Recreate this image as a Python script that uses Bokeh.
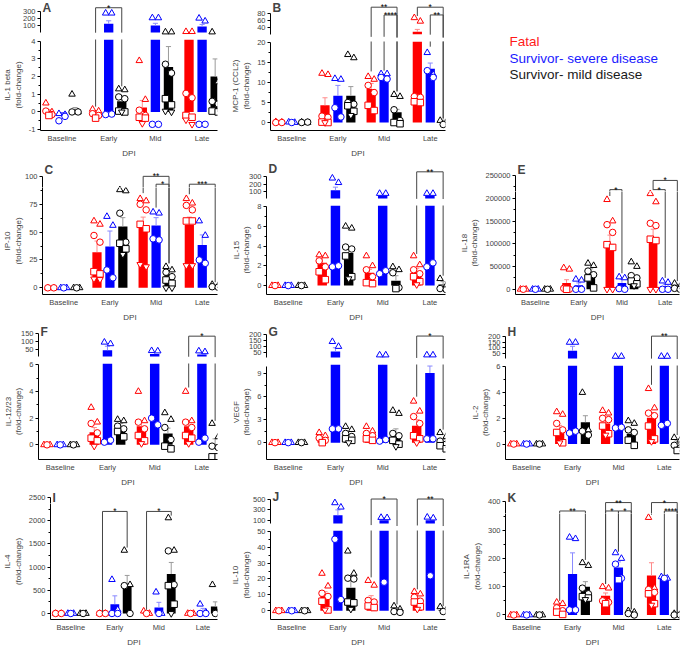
from bokeh.plotting import figure
from bokeh.models import Range1d, FixedTicker, Label, ColumnDataSource, NumeralTickFormatter
from bokeh.layouts import column, row
from bokeh.embed import file_html
from bokeh.resources import INLINE
from bokeh.core.properties import value

GROUPS = ["Baseline", "Early", "Mid", "Late"]
SERIES = ["Fatal", "Survivor- severe disease", "Survivor- mild disease"]
X_LABEL = "DPI"

# ---------------- data (series order: Fatal, severe, mild; groups: Baseline, Early, Mid, Late)
A_NAME = "IL-1 beta"
A_MEAN = [[0.05, 0.0, 0.25, 4.5], [-0.15, 125, 100, 85], [0.05, 0.6, 2.55, 2.0]]
A_ERR = [[0.08, 0.08, 0.4, 3], [0.1, 40, 30, 30], [0.2, 0.3, 1.15, 1.0]]
A_PTS = [
    [[0.5, 0.0, 0.05, -0.15, -0.2], [0.15, 0.05, -0.1, -0.2, -0.35], [2.9, 0.7, 0.1, -0.2, -0.3, -0.35, -0.65], [15, 15, 1.05, 0.8, -0.2, -0.3, -0.45, -0.7]],
    [[-0.1, -0.15, -0.5, -0.25], [270, 270, -0.15, -0.12], [205, 205, -0.7, -0.7], [200, 160, -0.7, -0.7]],
    [[1.0, 0.0, 0.0, 0.0], [1.3, 1.25, 0.85, 0.75, 0.05, 0.0, 0.0], [10, 10, 2.7, 2.2, 0.75, 0.4, 0.05, 0.0], [10, 1.7, 0.6, 0.45, 0.05, 0.0]],
]
A_SIG = [(1, 0, 2, 345, 0.3, 1.45, "*")]
A_TICKS_TOP = [100, 200, 300]
A_TICKS = [-1, 0, 1, 2, 3, 4]

B_NAME = "MCP-1 (CCL2)"
B_MEAN = [[0.1, 4.3, 8.4, 27], [0.05, 6.7, 11.4, 13.5], [0.1, 6.7, 2.6, 0.3]]
B_ERR = [[0.1, 1.9, 1.4, 7], [0.05, 2.6, 0.5, 1.4], [0.05, 2.3, 0.7, 0.3]]
B_PTS = [
    [[0.2, 0.1, 0.0, 0.0], [12.3, 12.0, 1.6, 1.3, 0.1, 0.0, 0.0], [11.5, 10.8, 9.3, 7.5, 4.3, 3.0], [67, 57, 6.5, 6.3, 5.2, 5.0]],
    [[0.1, 0.0, 0.0], [11.0, 10.8, 3.7, 1.4], [12.2, 12.2, 11.3, 10.9], [17.5, 12.0, 13.0, 11.3]],
    [[0.1, 0.0, 0.0, 0.1], [17.0, 16.2, 5.0, 4.6, 4.2, 2.8, 1.8], [7.0, 6.5, 3.2, 0.5, 0.0, -0.3], [0.5, 0.0, -0.5]],
]
B_SIG = [(2, 0, 2, 97, 12.8, 7.8, "**"), (2, 1, 2, 75, 13.0, 7.8, "****"),
         (3, 0, 2, 97, 72, 1.0, "*"), (3, 1, 2, 75, 19, 1.0, "**")]
B_TICKS_TOP = [40, 60, 80]
B_TICKS = [0, 5, 10, 15, 20]

C_NAME = "IP-10"
C_MEAN = [[0.5, 32, 54.5, 56.5], [0.5, 37, 56, 38.5], [0.5, 55, 12, 2]]
C_ERR = [[0.3, 10, 9, 7], [0.3, 14, 7, 9], [0.3, 8, 3, 0.6]]
C_PTS = [
    [[0, 0, 0, 0], [60, 57, 47, 41, 14.5, 12.5, 8, 7.5], [80, 78, 75, 70, 57, 53, 21, 19], [80, 76, 74, 70, 60, 60, 20, 20]],
    [[0, 0, 0], [64, 56, 16, 9], [68, 67, 44, 43], [60, 47, 25, 22]],
    [[0, 0, 0], [88, 87, 67, 41, 40, 35, 30], [19, 16, 14, 10, 7, 4, 0, 0], [3, 2, 1, 0.5]],
]
C_SIG = [(2, 0, 2, 100, 85, 22, "**"), (2, 1, 2, 93, 72, 22, "*"), (3, 0, 2, 93, 84, 5, "***")]
C_TICKS = [0, 25, 50, 75, 100]

D_NAME = "IL-15"
D_MEAN = [[0.05, 2.3, 1.3, 1.4], [0.05, 120, 45, 45], [0.05, 3.3, 0.5, 0.1]]
D_ERR = [[0.05, 0.7, 0.35, 0.35], [0.05, 40, 15, 15], [0.05, 0.6, 0.5, 0.3]]
D_PTS = [
    [[0, 0, 0], [3.1, 3.0, 2.5, 1.9, 1.4, 0.6], [3.0, 2.0, 1.6, 0.9, 0.3, 0.2], [3.0, 2.1, 1.6, 1.2, 0.9, 0.4, 0.1]],
    [[0, 0, 0], [280, 220, 1.9, 2.0], [75, 75, 1.2, 1.5], [75, 75, 1.9, 2.3]],
    [[0, 0, 0], [6.0, 5.8, 3.9, 3.7, 3.0, 0.9, 0.7], [1.9, 1.6, 1.3, -0.2, -0.3], [0.7, 0.0, -0.3, -0.4]],
]
D_SIG = [(3, 0, 2, 365, 3.2, 1.0, "**")]
D_TICKS_TOP = [100, 200, 300]
D_TICKS = [0, 2, 4, 6, 8]

E_NAME = "IL-18"
E_MEAN = [[500, 14000, 99000, 112000], [300, 9000, 14000, 7000], [400, 36000, 26000, 8000]]
E_ERR = [[300, 7000, 20000, 20000], [200, 5000, 8000, 4000], [300, 9000, 5000, 3000]]
E_PTS = [
    [[0, 0, 0], [47000, 44000, 2000, 0, 0], [197000, 150000, 142000, 125000, 98000, 92000, 0, 0], [210000, 192000, 145000, 140000, 110000, 107000, 0, 0]],
    [[0, 0, 0], [22000, 20000, 0, 0], [27000, 25000, 1500, 0], [18000, 15000, 0, 0]],
    [[0, 0, 0], [57000, 52000, 40000, 32000, 25000, 3000], [60000, 50000, 30000, 25000, 18000, 12000, 8000], [13000, 6000, 2000, 0]],
]
E_SIG = [(2, 0, 1, 219000, 205000, 35000, "*"), (3, 0, 1, 219000, 218000, 25000, "*"),
         (3, 0, 2, 239000, 219000, 18000, "*")]
E_TICKS = [0, 50000, 100000, 150000, 200000, 250000]

F_NAME = "IL-12/23"
F_MEAN = [[0.02, 0.95, 1.4, 1.4], [0.02, 45, 21, 19], [0.02, 1.35, 0.85, 0.05]]
F_ERR = [[0.02, 0.35, 0.4, 0.4], [0.02, 25, 10, 10], [0.02, 0.25, 0.4, 0.4]]
F_PTS = [
    [[0, 0, 0], [2.8, 1.7, 1.6, 0.9, 0.5, 0.3, -0.1], [4.0, 1.8, 1.7, 1.2, 0.7, 0.3, 0.1], [4.0, 1.8, 1.7, 1.3, 0.7, 0.5, 0.1]],
    [[0, 0, 0], [95, 85, 0.2, 0.35], [42, 40, 2.0, 1.5], [40, 35, 0.2, 0.5]],
    [[0, 0, 0], [1.9, 1.8, 1.4, 1.2, 1.0, 0.6], [2.4, 1.9, 1.3, 0.4, -0.1, -0.3], [1.6, 0.6, -0.1, -0.2, -0.9, -0.9]],
]
F_SIG = [(3, 0, 2, 133, 4.3, 1.8, "*")]
F_TICKS_TOP = [50, 100, 150]
F_TICKS = [0, 2, 4, 6]

G_NAME = "VEGF"
G_MEAN = [[0.02, 0.5, 1.0, 2.2], [0.02, 60, 10.2, 9.1], [0.02, 0.6, 1.0, 0.1]]
G_ERR = [[0.02, 0.3, 0.3, 0.8], [0.02, 30, 5, 0.9], [0.02, 0.3, 0.8, 0.3]]
G_PTS = [
    [[0, 0, 0], [1.3, 0.9, 0.6, 0.3, 0.0], [2.1, 1.5, 1.2, 0.9, 0.5, 0.3], [5.4, 4.1, 3.4, 2.5, 0.9, 0.5, 0.0]],
    [[0, 0, 0], [140, 100, 1.8, 1.8], [30, 30, 0.2, 0.4], [30, 30, 0.5, 0.5]],
    [[0, 0, 0], [2.1, 1.7, 1.2, 0.8, 0.5, 0.3, 0.0], [4.2, 3.8, 1.2, 0.9, 0.3, -0.2, -0.5], [1.3, 0.8, 0.2, -0.2, -0.4, -0.8]],
]
G_SIG = [(3, 0, 2, 186, 6.0, 1.7, "*")]
G_TICKS_TOP = [50, 100, 150, 200]
G_TICKS = [0, 3, 6, 9]

H_NAME = "IL-2"
H_MEAN = [[0.02, 1.15, 1.6, 2.05], [0.02, 75, 13, 13], [0.02, 1.7, 0.8, 0.05]]
H_ERR = [[0.02, 0.3, 0.25, 0.4], [0.02, 40, 6, 6], [0.02, 0.5, 0.3, 0.2]]
H_PTS = [
    [[0, 0, 0], [2.5, 2.3, 1.6, 1.1, 0.9, 0.1, 0.1], [2.6, 2.4, 2.0, 1.9, 1.4, 0.8, 0.7], [4.3, 2.8, 2.4, 2.2, 1.4, 0.4, 0.2]],
    [[0, 0, 0], [150, 150, 0.85, 1.0], [25, 25, 1.25, 1.3], [25, 25, 1.45, 1.6]],
    [[0, 0, 0], [4.0, 1.1, 1.0, 0.7], [1.8, 1.6, 1.1, 0.9, 0.3, -0.1], [0.5, 0.3, -0.1, -0.3, -0.5]],
]
H_SIG = [(3, 0, 2, 206, 4.6, 0.7, "**")]
H_TICKS_TOP = [50, 100, 150, 200]
H_TICKS = [0, 2, 4, 6]

I_NAME = "IL-4"
I_MEAN = [[5, 5, 15, 5], [5, 200, 130, 40], [5, 640, 850, 150]]
I_ERR = [[5, 5, 15, 5], [5, 180, 110, 70], [5, 180, 250, 100]]
I_PTS = [
    [[0, 0, 0, 0], [0, 0, 0, 0], [50, 0, 0], [0, 0, 0]],
    [[0, 0, 0], [730, 80, 0, 0], [460, 0, 0], [200, 30, 0, 0]],
    [[0, 0, 0], [1360, 620, 600, 0], [2060, 1360, 1350, 620, 600, 200, 0], [620, 20, 0]],
]
I_SIG = [(1, 0, 2, 2200, 30, 1420, "*"), (2, 0, 2, 2200, 80, 2110, "*")]
I_TICKS = [0, 500, 1000, 1500, 2000, 2500]

J_NAME = "IL-10"
J_MEAN = [[0.3, 9.5, 7, 6.5], [0.3, 200, 110, 112], [0.3, 14.5, 0.5, 0.5]]
J_ERR = [[0.2, 2.5, 2.5, 1.5], [0.2, 100, 45, 45], [0.2, 4.5, 0.8, 0.6]]
J_PTS = [
    [[0, 0, 0], [23.5, 15.5, 11, 9, 6, 0.5, 0.5], [19, 16, 6.5, 5.5, 3, 2], [12, 10.5, 8.5, 6, 5.5, 2.5, 1]],
    [[0, 0, 0], [430, 350, 45, 7], [160, 155, 18], [165, 150, 22]],
    [[0, 0, 0], [37.5, 23.5, 20.5, 20, 5.5, 5, 1], [3, 1, -0.5, -1], [2.5, 0.5, -0.5]],
]
J_SIG = [(2, 0, 2, 500, 21, 4, "*"), (3, 0, 2, 500, 13.5, 3, "**")]
J_TICKS_TOP = [100, 300, 500]
J_TICKS = [0, 10, 20, 30, 40, 50]

K_NAME = "IL-1RA"
K_MEAN = [[2, 25, 68, 140], [2, 145, 168, 128], [2, 100, 8, 2]]
K_ERR = [[2, 10, 10, 45], [2, 75, 20, 4], [2, 18, 3, 1]]
K_PTS = [
    [[0, 0, 0], [45, 40, 25, 15, 10, 2], [100, 95, 50, 45, 40], [345, 95, 90, 80, 75, 40, 35]],
    [[0, 0, 0], [275, 270, 18, 18], [220, 200, 180, 130, 125], [135, 130, 130]],
    [[0, 0, 0], [185, 175, 95, 75, 65, 60, 55], [15, 10, 5, 0], [5, 2, 0, 0]],
]
K_SIG = [(1, 0, 2, 368, 50, 195, "**"), (2, 0, 2, 397, 110, 20, "**"), (2, 0, 1, 368, 110, 225, "*"),
         (2, 1, 2, 368, 225, 20, "*"), (3, 0, 2, 397, 355, 5, "*"), (3, 1, 2, 368, 140, 5, "****")]
K_TICKS = [0, 100, 200, 300, 400]

# ---------------- style / layout
FONT = "Liberation Sans"
COLORS = ["#ff0000", "#0000ff", "#000000"]
ERR_COLORS = ["#ff8a8a", "#8a8aff", "#9a9a9a"]
LEGEND_COLORS = ["#ff1a1a", "#1a1aff", "#1a1a1a"]
OFFS = [-0.28, 0.0, 0.28]
BAR_W = 0.2
JIT = 0.065
SHAPES = ["triangle", "circle", "square", "inverted_triangle"]
XR = (-0.46, 3.33)
ROW_H = [161, 163, 165, 160]
ROW_BB = [31, 29, 29, 27]
COL_W = [228, 228, 225]
COL_BL = [37, 37, 49]
COL_BR = [11, 11, 2]


def mids(ticks):
    return [(a + b) / 2 for a, b in zip(ticks[:-1], ticks[1:])]


def base_fig(col, h, yr, tb, bb, with_x):
    p = figure(width=COL_W[col], height=h, x_range=Range1d(*XR), y_range=Range1d(*yr),
               output_backend="svg", toolbar_location=None,
               x_axis_location="below" if with_x else None,
               min_border_left=COL_BL[col], min_border_right=COL_BR[col],
               min_border_top=tb, min_border_bottom=bb)
    p.outline_line_color = None
    p.grid.visible = False
    if with_x:
        ax = p.xaxis[0]
        ax.ticker = FixedTicker(ticks=[0, 1, 2, 3])
        ax.major_label_overrides = {i: g for i, g in enumerate(GROUPS)}
        ax.major_tick_out = 0
        ax.major_tick_in = 0
        ax.minor_tick_out = 0
        ax.major_label_standoff = 3
        ax.major_label_text_font = FONT
        ax.major_label_text_font_size = "7.5px"
        ax.axis_label = X_LABEL
        ax.axis_label_text_font = FONT
        ax.axis_label_text_font_size = "8px"
        ax.axis_label_text_font_style = "normal"
        ax.axis_label_standoff = 3
        ax.axis_line_color = "black"
    return p


def style_y(p, ticks, minors, bounds, label):
    ax = p.yaxis[0]
    ax.ticker = FixedTicker(ticks=ticks, minor_ticks=minors)
    ax.formatter = NumeralTickFormatter(format="0")
    ax.bounds = bounds
    ax.axis_line_color = "black"
    ax.major_tick_out = 3
    ax.major_tick_in = 0
    ax.minor_tick_out = 2
    ax.minor_tick_in = 0
    ax.major_label_standoff = 2
    ax.major_label_text_font = FONT
    ax.major_label_text_font_size = "7.5px"
    ax.axis_label = label
    ax.axis_label_text_font = FONT
    ax.axis_label_text_font_size = "8px"
    ax.axis_label_text_font_style = "normal"
    ax.axis_label_standoff = 3


def draw(p, mean, err, pts, sig, lo=None, hi=None):
    y0r, y1r = p.y_range.start, p.y_range.end
    for s in range(3):
        xs, tops, bots = [], [], []
        for g in range(4):
            m = mean[s][g]
            if lo is not None and m <= lo:
                continue
            xs.append(g + OFFS[s])
            tops.append(m)
            bots.append(lo if lo is not None else 0)
        if xs:
            p.vbar(x=xs, top=tops, bottom=bots, width=BAR_W, fill_color=COLORS[s], line_color=None)
    for s in range(3):
        x0, y0, y1, cx0, cx1, cy = [], [], [], [], [], []
        for g in range(4):
            m, e = mean[s][g], err[s][g]
            t = m + e
            if lo is not None and t <= lo:
                continue
            x = g + OFFS[s]
            x0.append(x)
            y0.append(max(m, lo) if lo is not None else m)
            y1.append(t)
            if hi is None or t <= hi:
                cx0.append(x - 0.055)
                cx1.append(x + 0.055)
                cy.append(t)
        if x0:
            p.segment(x0=x0, y0=y0, x1=x0, y1=y1, line_color=ERR_COLORS[s], line_width=1)
        if cy:
            p.segment(x0=cx0, y0=cy, x1=cx1, y1=cy, line_color=ERR_COLORS[s], line_width=1)
    d = dict(x=[], y=[], m=[], c=[])
    for s in range(3):
        for g in range(4):
            vals = pts[s][g]
            n = len(vals)
            for i, v in enumerate(vals):
                if lo is not None and v <= lo:
                    continue
                if hi is not None and v > hi:
                    continue
                if n % 2 == 1 and i == n - 1:
                    dx = 0.0
                else:
                    dx = -JIT if i % 2 == 0 else JIT
                d["x"].append(g + OFFS[s] + dx)
                d["y"].append(v)
                d["m"].append(SHAPES[(i // 2) % len(SHAPES)])
                d["c"].append(COLORS[s])
    if d["x"]:
        p.scatter(x="x", y="y", marker="m", line_color="c", fill_color="white", size=6.5,
                  line_width=1, source=ColumnDataSource(d))
    for (g, s1, s2, yb, e1, e2, lab) in sig:
        xa, xb = g + OFFS[s1], g + OFFS[s2]
        p.segment(x0=[xa, xa, xb], y0=[yb, yb, yb], x1=[xb, xa, xb], y1=[yb, e1, e2],
                  line_color="#444444", line_width=1)
        if y0r < yb < y1r:
            p.text(x=[(xa + xb) / 2], y=[yb], text=[lab], text_align="center",
                   text_baseline="alphabetic", text_font=value(FONT), text_font_size="8.5px",
                   text_color="black")


def letter_top(p, txt, h):
    # figures without an x axis: measured from the canvas' bottom-left corner
    p.add_layout(Label(x=2, y=h - 8, x_units="screen", y_units="screen",
                       text=txt, text_font=FONT, text_font_size="12px", text_font_style="bold",
                       text_baseline="middle", text_align="left"))


def split_panel(key, name, mean, err, pts, sig, ticks, col, rw, yr, strip_h):
    # one continuous axis drawn as a top strip plus the main plot, seamlessly
    h = ROW_H[rw]
    bb = ROW_BB[rw]
    upx = (yr[1] - yr[0]) / (h - bb)
    v = yr[1] - strip_h * upx
    mn = mids(ticks)
    ps = base_fig(col, strip_h, (v, yr[1]), 0, 0, False)
    style_y(ps, [t for t in ticks if t > v], [m for m in mn if m > v], (v, ticks[-1]), "")
    draw(ps, mean, err, pts, sig)
    letter_top(ps, key, strip_h)
    pm = base_fig(col, h - strip_h, (yr[0], v), 0, bb, True)
    style_y(pm, [t for t in ticks if t <= v], [m for m in mn if m <= v], (yr[0], v), name + "\n(fold-change)")
    draw(pm, mean, err, pts, sig)
    return column(ps, pm, spacing=0)


def broken_panel(key, name, mean, err, pts, sig, ticks_top, ticks, col, rw, brk, top_r, low_r, th):
    h = ROW_H[rw]
    bb = ROW_BB[rw]
    ht = th + 1
    pt = base_fig(col, ht, top_r, 0, 1, False)
    style_y(pt, ticks_top, [], (brk, ticks_top[-1]), "")
    draw(pt, mean, err, pts, sig, lo=brk)
    letter_top(pt, key, ht)
    pb = base_fig(col, h - ht, low_r, 3, bb, True)
    style_y(pb, ticks, mids(ticks), (low_r[0], brk), name + "\n(fold-change)")
    draw(pb, mean, err, pts, sig, hi=brk)
    return column(pt, pb, spacing=0)


pA = broken_panel("A", A_NAME, A_MEAN, A_ERR, A_PTS, A_SIG, A_TICKS_TOP, A_TICKS, 0, 0, 4, (-38, 445), (-1.05, 4.1), 35)
pB = broken_panel("B", B_NAME, B_MEAN, B_ERR, B_PTS, B_SIG, B_TICKS_TOP, B_TICKS, 1, 0, 20, (11, 116), (-2, 20.3), 37)

leg = figure(width=COL_W[2], height=ROW_H[0], x_range=Range1d(0, 1), y_range=Range1d(0, 1),
             output_backend="svg", toolbar_location=None, x_axis_location=None,
             y_axis_location=None, min_border=0)
leg.outline_line_color = None
leg.grid.visible = False
for i, (nm, c) in enumerate(zip(SERIES, LEGEND_COLORS)):
    leg.add_layout(Label(x=53, y=ROW_H[0] - 41 - 16.5 * i, x_units="screen", y_units="screen",
                         text=nm, text_color=c, text_font=FONT, text_font_size="13.5px",
                         text_baseline="alphabetic"))

pC = split_panel("C", C_NAME, C_MEAN, C_ERR, C_PTS, C_SIG, C_TICKS, 0, 1, (-6, 113.2), 26)
pD = broken_panel("D", D_NAME, D_MEAN, D_ERR, D_PTS, D_SIG, D_TICKS_TOP, D_TICKS, 1, 1, 8, (-32, 503), (-0.9, 8.1), 40)
pE = split_panel("E", E_NAME, E_MEAN, E_ERR, E_PTS, E_SIG, E_TICKS, 2, 1, (-11500, 280200), 30)

pF = broken_panel("F", F_NAME, F_MEAN, F_ERR, F_PTS, F_SIG, F_TICKS_TOP, F_TICKS, 0, 2, 6, (-13, 206), (-1.1, 6.1), 35)
pG = broken_panel("G", G_NAME, G_MEAN, G_ERR, G_PTS, G_SIG, G_TICKS_TOP, G_TICKS, 1, 2, 10, (-15, 281), (-2.2, 10.2), 36)
pH = broken_panel("H", H_NAME, H_MEAN, H_ERR, H_PTS, H_SIG, H_TICKS_TOP, H_TICKS, 2, 2, 6, (-21, 310), (-1.2, 6.1), 37)

pI = split_panel("I", I_NAME, I_MEAN, I_ERR, I_PTS, I_SIG, I_TICKS, 0, 3, (-130, 2665), 14)
pJ = broken_panel("J", J_NAME, J_MEAN, J_ERR, J_PTS, J_SIG, J_TICKS_TOP, J_TICKS, 1, 3, 50, (-5, 675), (-5.5, 50.5), 37)
pK = split_panel("K", K_NAME, K_MEAN, K_ERR, K_PTS, K_SIG, K_TICKS, 2, 3, (-16, 442), 24)

page = column(
    row(pA, pB, leg, spacing=0),
    row(pC, pD, pE, spacing=0),
    row(pF, pG, pH, spacing=0),
    row(pI, pJ, pK, spacing=0),
    spacing=0,
)

open("out.html", "w").write(file_html(page, INLINE))
